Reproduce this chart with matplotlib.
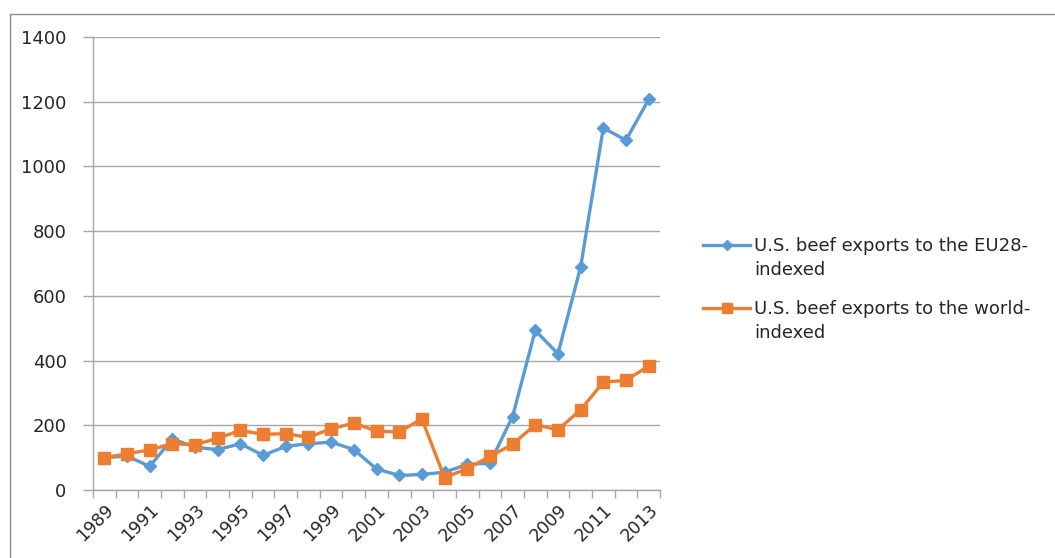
import numpy as np
import matplotlib
matplotlib.use("Agg")
import matplotlib.pyplot as plt
from matplotlib.patches import Rectangle
from matplotlib.lines import Line2D

# Data (index, 1989 = 100)
years = list(range(1989, 2014))
eu28_index = [100, 105, 73, 158, 132, 125, 143, 107, 135, 143, 148, 125, 65,
              45, 48, 55, 79, 83, 227, 493, 421, 689, 1119, 1081, 1207]
world_index = [100, 112, 124, 143, 140, 160, 184, 172, 174, 163, 189, 207, 182,
               179, 220, 38, 66, 104, 141, 202, 186, 248, 333, 339, 383]
labels = ["U.S. beef exports to the EU28-\nindexed",
          "U.S. beef exports to the world-\nindexed"]
colors = ['#5B9BD5', '#ED7D31']
markers = [('D', 6.5), ('s', 8)]

plt.rcParams['font.family'] = ['DejaVu Sans']
text_col = '#262626'
grid_col = '#A6A6A6'

fig = plt.figure(figsize=(10.55, 5.58), dpi=100)
W, H = 1055, 558
ax = fig.add_axes([93 / W, 1 - 490 / H, (660 - 93) / W, (490 - 37) / H])

x = np.arange(len(years))
for i, series in enumerate([eu28_index, world_index]):
    ax.plot(x, series, color=colors[i], lw=2.4, marker=markers[i][0],
            ms=markers[i][1], zorder=3 + i)

ax.set_xlim(-0.5, len(years) - 0.5)
ax.set_ylim(0, 1400)
ax.set_yticks(range(0, 1401, 200))
ax.yaxis.grid(True, color=grid_col, lw=1)
ax.set_axisbelow(True)

ax.set_xticks(x[::2], [str(y) for y in years[::2]], rotation=45,
              ha='right', rotation_mode='anchor')
ax.set_xticks(np.arange(-0.5, len(years)), minor=True)
ax.tick_params(axis='x', which='major', length=0, pad=8, labelsize=12.5,
               labelcolor=text_col)
ax.tick_params(axis='x', which='minor', length=6, color=grid_col, width=1)
ax.tick_params(axis='y', length=7, color=grid_col, width=1, pad=12,
               labelsize=13, labelcolor=text_col)

for s in ['top', 'right']:
    ax.spines[s].set_visible(False)
for s in ['left', 'bottom']:
    ax.spines[s].set_color(grid_col)
    ax.spines[s].set_linewidth(1)

# legend drawn by hand so the key sits on the first text line
for i, lab in enumerate(labels):
    y0 = 1 - (245 + 63 * i) / H
    fig.add_artist(Line2D([703 / W, 750 / W], [y0, y0], color=colors[i],
                          lw=2.4, transform=fig.transFigure))
    fig.add_artist(Line2D([726.5 / W], [y0], color=colors[i],
                          marker=markers[i][0], ms=markers[i][1] - 1.5,
                          transform=fig.transFigure))
    fig.text(754 / W, y0 + 8 / H, lab, fontsize=13, color=text_col,
             va='top', ha='left', linespacing=1.45)

# outer chart border
fig.patches.append(Rectangle((10 / W, -0.05), 1.1, 1 - 14 / H + 0.05,
                             transform=fig.transFigure, fill=False,
                             edgecolor='#8C8C8C', lw=1))

fig.savefig("out.png", dpi=100)
